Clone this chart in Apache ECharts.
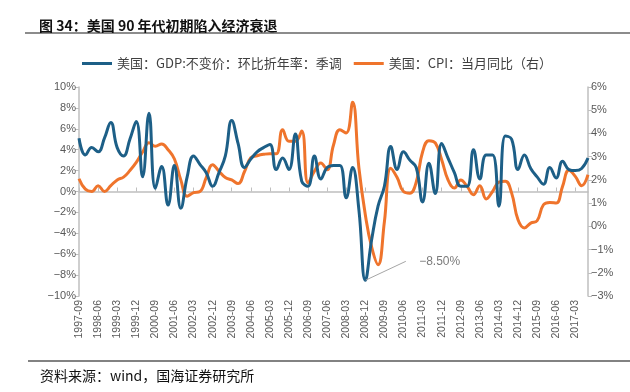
<!DOCTYPE html>
<html>
<head>
<meta charset="utf-8">
<script src="https://cdn.jsdelivr.net/npm/echarts/dist/echarts.min.js"></script>
<style>
html,body{margin:0;padding:0;background:#fff;}
#chart{width:630px;height:392px;}
</style>
</head>
<body>
<div id="chart"></div>
<script>
// Quarter-end categories (1997-09 .. 2017-09)
const categories = [
 '1997-09','1997-12','1998-03','1998-06','1998-09','1998-12','1999-03','1999-06','1999-09','1999-12',
 '2000-03','2000-06','2000-09','2000-12','2001-03','2001-06','2001-09','2001-12','2002-03','2002-06',
 '2002-09','2002-12','2003-03','2003-06','2003-09','2003-12','2004-03','2004-06','2004-09','2004-12',
 '2005-03','2005-06','2005-09','2005-12','2006-03','2006-06','2006-09','2006-12','2007-03','2007-06',
 '2007-09','2007-12','2008-03','2008-06','2008-09','2008-12','2009-03','2009-06','2009-09','2009-12',
 '2010-03','2010-06','2010-09','2010-12','2011-03','2011-06','2011-09','2011-12','2012-03','2012-06',
 '2012-09','2012-12','2013-03','2013-06','2013-09','2013-12','2014-03','2014-06','2014-09','2014-12',
 '2015-03','2015-06','2015-09','2015-12','2016-03','2016-06','2016-09','2016-12','2017-03','2017-06',
 '2017-09'
];

// 美国：GDP:不变价：环比折年率：季调 (left axis, %)
const gdp = [
 5.1, 3.5, 4.2, 3.8, 5.1, 6.6, 4.2, 3.4, 5.0, 6.7,
 1.4, 7.5, 0.3, 2.4, -1.3, 2.5, -1.6, 1.4, 3.4, 2.6,
 1.8, 0.5, 1.8, 3.4, 6.8, 4.6, 2.3, 3.1, 3.8, 4.2,
 4.5, 2.1, 3.2, 2.1, 5.5, 1.0, 0.5, 3.4, 1.2, 2.3,
 2.5, 2.5, -0.6, 2.3, -1.8, -8.5, -4.6, -1.4, 0.5, 4.3,
 2.1, 3.8, 3.0, 2.3, -1.0, 2.7, -0.2, 4.6, 3.2, 1.8,
 0.5, 0.5, 4.0, 1.2, 3.5, 3.5, -1.4, 5.3, 5.0, 2.1,
 3.5, 2.2, 1.4, 0.7, 2.3, 1.3, 2.9, 2.1, 2.0, 2.2,
 3.2
];

// 美国：CPI：当月同比（右） (right axis, %)
const cpi = [
 2.05, 1.6, 1.5, 1.75, 1.5, 1.75, 2.0, 2.12, 2.4, 2.75,
 3.2, 3.6, 3.45, 3.55, 3.3, 2.9, 2.0, 1.3, 1.45, 1.5,
 2.1, 2.65, 2.37, 2.1, 2.0, 1.84, 2.35, 2.95, 3.04, 3.1,
 3.13, 3.13, 4.16, 3.66, 3.66, 4.1, 1.87, 2.37, 2.73, 2.44,
 3.5, 4.16, 4.02, 5.34, 2.5, 0.5, -0.9, -1.65, 0.2, 2.5,
 2.1, 1.5, 1.43, 1.9, 3.2, 3.69, 3.59, 2.87, 2.0, 1.65,
 2.0, 1.72, 1.36, 1.75, 1.18, 1.5, 1.9, 1.94, 1.43, 0.28,
 -0.07, 0.14, 0.24, 0.93, 1.03, 1.0, 1.72, 2.41, 2.15, 1.75,
 2.22
];

const leftTicks = { min: -10, max: 10, interval: 2 };
const rightTicks = { min: -3, max: 6, interval: 1 };
const annotIndex = 45;   // 2008-12 trough
const annotText = '−8.50%';

const nameGdp = '美国：GDP:不变价：环比折年率：季调';
const nameCpi = '美国：CPI：当月同比（右）';

const blue = '#1d5f87';
const orange = '#ef742c';
const axisGrey = '#bfbfbf';
const labelGrey = '#595959';
const fmt = v => String(v).replace('-', '−') + '%';

const chart = echarts.init(document.getElementById('chart'), null, {renderer: 'canvas'});
chart.setOption({
  animation: false,
  backgroundColor: '#fff',
  title: {
    text: '图 34：美国 90 年代初期陷入经济衰退',
    left: 34, top: 14,
    textStyle: {fontSize: 14, fontWeight: 'bold', color: '#111', fontFamily: 'Noto Sans CJK SC'}
  },
  legend: {
    data: [nameGdp, nameCpi],
    left: 77, top: 52, icon: 'rect',
    itemWidth: 30, itemHeight: 3, itemGap: 12,
    textStyle: {fontSize: 13, color: '#404040', fontFamily: 'Noto Sans CJK SC'}
  },
  grid: {left: 79, right: 42, top: 87, bottom: 96, containLabel: false},
  xAxis: [{
    type: 'category', data: categories, boundaryGap: false, position: 'bottom',
    axisLine: {show: false, onZero: false}, axisTick: {show: false},
    axisLabel: {interval: 2, rotate: 90, margin: 4, fontSize: 10.5, color: labelGrey, fontFamily: 'Liberation Sans'},
    splitLine: {show: false}
  }, {
    type: 'category', data: categories, boundaryGap: false,
    axisLine: {show: true, onZero: true, onZeroAxisIndex: 0, lineStyle: {color: axisGrey, width: 1.5}},
    axisTick: {show: true, interval: 2, length: 4, lineStyle: {color: axisGrey, width: 1}},
    axisLabel: {show: false}, splitLine: {show: false}
  }],
  yAxis: [{
    type: 'value', position: 'left', ...leftTicks,
    axisLine: {show: true, lineStyle: {color: axisGrey, width: 1.5}},
    axisTick: {show: true, length: 4, lineStyle: {color: axisGrey}},
    axisLabel: {formatter: fmt, fontSize: 11, color: labelGrey, margin: 3, fontFamily: 'Liberation Sans'},
    splitLine: {show: false}
  }, {
    type: 'value', position: 'right', ...rightTicks,
    axisLine: {show: true, lineStyle: {color: axisGrey, width: 1.5}},
    axisTick: {show: true, length: 4, lineStyle: {color: axisGrey}},
    axisLabel: {formatter: fmt, fontSize: 11, color: labelGrey, margin: 3, fontFamily: 'Liberation Sans'},
    splitLine: {show: false}
  }],
  series: [{
    name: nameGdp, type: 'line', data: gdp, xAxisIndex: 0, yAxisIndex: 0,
    smooth: 0.45, symbol: 'none', z: 3,
    lineStyle: {color: blue, width: 3}, itemStyle: {color: blue}
  }, {
    name: nameCpi, type: 'line', data: cpi, xAxisIndex: 0, yAxisIndex: 1,
    smooth: 0.45, symbol: 'none', z: 2,
    lineStyle: {color: orange, width: 3}, itemStyle: {color: orange}
  }, {
    name: 'annot', type: 'scatter', xAxisIndex: 0, yAxisIndex: 0,
    data: gdp.map((v, i) => i === annotIndex ? v : '-'),
    symbolSize: 1, itemStyle: {color: 'rgba(0,0,0,0)'}, z: 5,
    label: {show: true, position: 'right', distance: 4,
      formatter: '    ' + annotText,
      fontSize: 12, color: labelGrey, fontFamily: 'Liberation Sans'},
    labelLayout: {dx: 36, dy: -19},
    labelLine: {show: true, lineStyle: {color: '#a6a6a6', width: 1}}
  }],
  graphic: [
    {type: 'line', shape: {x1: 25, y1: 33, x2: 630, y2: 33}, style: {stroke: '#8c8c8c', lineWidth: 2}},
    {type: 'line', shape: {x1: 28, y1: 361, x2: 630, y2: 361}, style: {stroke: '#595959', lineWidth: 1.5}},
    {type: 'text', left: 40, top: 369, style: {text: '资料来源：wind，国海证券研究所', fontSize: 14, fill: '#111', fontFamily: 'Noto Sans CJK SC'}}
  ]
});
</script>
</body>
</html>
